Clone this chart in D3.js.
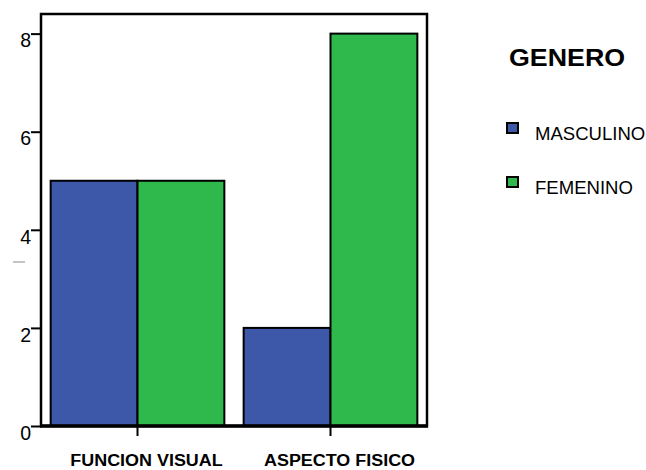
<!DOCTYPE html>
<html>
<head>
<meta charset="utf-8">
<script src="https://cdn.jsdelivr.net/npm/d3@7"></script>
<style>
  body { margin: 0; background: #fff; }
  svg { font-family: "Liberation Sans", Arial, sans-serif; }
</style>
</head>
<body>
<div id="chart-container"></div>
<script>
const categories = ["FUNCION VISUAL", "ASPECTO FISICO"];
const series = ["MASCULINO", "FEMENINO"];
const masculino = [5, 2];
const femenino = [5, 8];
const yTicks = [0, 2, 4, 6, 8];
const legendTitle = "GENERO";

const colors = ["#3e58a9", "#2fb84b"];
const width = 646, height = 470;
const plotLeft = 41, plotRight = 427, plotTop = 14, plotBottom = 426;

const svg = d3.select("#chart-container").append("svg")
    .attr("width", width)
    .attr("height", height);

const x0 = d3.scaleBand()
    .domain(categories)
    .range([plotLeft, plotRight])
    .paddingInner(0.1)
    .paddingOuter(0.05);

const x1 = d3.scaleBand()
    .domain(series)
    .range([0, x0.bandwidth()]);

const y = d3.scaleLinear()
    .domain([0, 8.4])
    .range([plotBottom, plotTop]);

const color = d3.scaleOrdinal(series, colors);

const rows = categories.map(function (c, i) {
    return { cat: c, values: [masculino[i], femenino[i]] };
});

// stretch text horizontally a bit, like the original renderer
function stretch(sel, k) {
    sel.each(function () {
        const len = this.getComputedTextLength();
        d3.select(this)
            .attr("textLength", len * k)
            .attr("lengthAdjust", "spacingAndGlyphs");
    });
}

// bars
const group = svg.selectAll(".cat")
    .data(rows)
    .enter().append("g")
    .attr("class", "cat")
    .attr("transform", function (d) { return "translate(" + x0(d.cat) + ",0)"; });

group.selectAll("rect")
    .data(function (d) { return d.values.map(function (v, i) { return { s: series[i], v: v }; }); })
    .enter().append("rect")
    .attr("x", function (d) { return x1(d.s); })
    .attr("y", function (d) { return y(d.v); })
    .attr("width", x1.bandwidth())
    .attr("height", function (d) { return plotBottom - y(d.v); })
    .attr("fill", function (d) { return color(d.s); })
    .attr("stroke", "#000")
    .attr("stroke-width", 2);

// frame
svg.append("rect")
    .attr("x", plotLeft)
    .attr("y", plotTop)
    .attr("width", plotRight - plotLeft)
    .attr("height", plotBottom - plotTop)
    .attr("fill", "none")
    .attr("stroke", "#000")
    .attr("stroke-width", 2.5);

svg.append("line")
    .attr("x1", plotLeft - 1).attr("x2", plotRight + 1)
    .attr("y1", plotBottom).attr("y2", plotBottom)
    .attr("stroke", "#000")
    .attr("stroke-width", 3.5);

// y axis
const yAxis = d3.axisLeft(y)
    .tickValues(yTicks)
    .tickSize(10)
    .tickPadding(0);

const ya = svg.append("g")
    .attr("transform", "translate(" + plotLeft + ",0)")
    .call(yAxis);
ya.select(".domain").remove();
ya.selectAll(".tick line").attr("stroke-width", 2);
ya.selectAll(".tick text")
    .attr("font-size", 19.5)
    .attr("font-family", "Liberation Sans, Arial, sans-serif")
    .attr("dy", "0.68em")
    .attr("fill", "#000");

// x axis
const xAxis = d3.axisBottom(x0)
    .tickSize(10)
    .tickPadding(19);

const xa = svg.append("g")
    .attr("transform", "translate(0," + plotBottom + ")")
    .call(xAxis);
xa.select(".domain").remove();
xa.selectAll(".tick line").attr("stroke-width", 2);
xa.selectAll(".tick text")
    .attr("font-size", 16)
    .attr("font-weight", "bold")
    .attr("font-family", "Liberation Sans, Arial, sans-serif")
    .attr("dx", 9)
    .attr("fill", "#000")
    .call(stretch, 1.12);

// empty y title dash
svg.append("line")
    .attr("x1", 13).attr("x2", 25)
    .attr("y1", 262).attr("y2", 262)
    .attr("stroke", "#888")
    .attr("stroke-width", 1);

// legend
svg.append("text")
    .attr("x", 509)
    .attr("y", 66)
    .attr("font-size", 23.5)
    .attr("font-weight", "bold")
    .text(legendTitle)
    .call(stretch, 1.14);

const leg = svg.selectAll(".leg")
    .data(series)
    .enter().append("g")
    .attr("class", "leg")
    .attr("transform", function (d, i) { return "translate(507," + (123 + i * 54) + ")"; });

leg.append("rect")
    .attr("width", 11)
    .attr("height", 10)
    .attr("fill", function (d) { return color(d); })
    .attr("stroke", "#000")
    .attr("stroke-width", 2);

leg.append("text")
    .attr("x", 28)
    .attr("y", 17)
    .attr("font-size", 18)
    .text(function (d) { return d; })
    .call(stretch, 1.03);
</script>
</body>
</html>
